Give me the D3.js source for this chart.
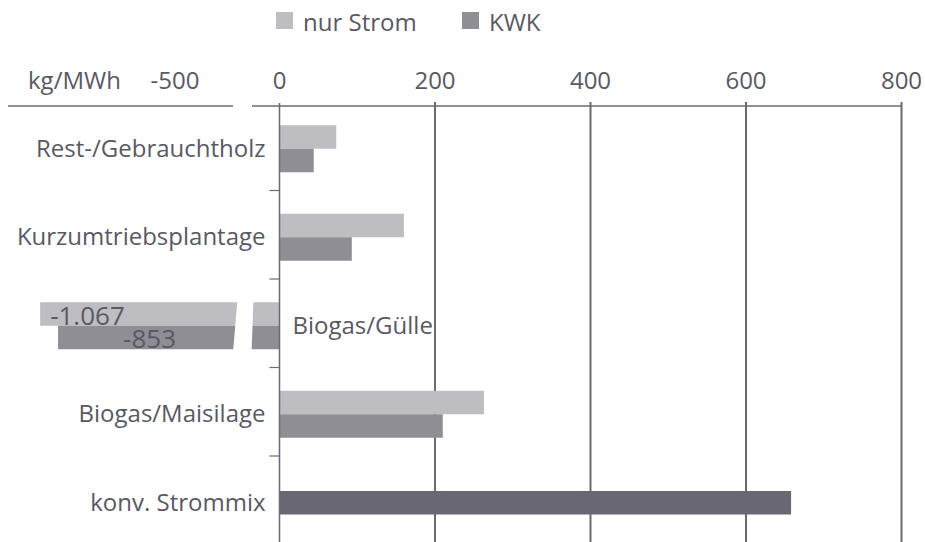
<!DOCTYPE html>
<html>
<head>
<meta charset="utf-8">
<script src="https://cdn.jsdelivr.net/npm/d3@7"></script>
<style>
  html, body { margin: 0; padding: 0; background: #fff; }
  svg { display: block; font-family: "Open Sans", "Noto Sans", sans-serif; }
</style>
</head>
<body>
<svg id="chart" width="925" height="542"></svg>
<script>
// Emissionen je Bereitstellungspfad (kg/MWh)
const categories = ["Rest-/Gebrauchtholz", "Kurzumtriebsplantage", "Biogas/Gülle", "Biogas/Maisilage", "konv. Strommix"];
const seriesNames = ["nur Strom", "KWK"];
const nurStrom = [73, 160, -1067, 263, null];
const kwk = [44, 93, -853, 210, null];
const strommix = [null, null, null, null, 658];
const valueLabels = ["-1.067", "-853"];
const tickValues = [-500, 0, 200, 400, 600, 800];
const unitLabel = "kg/MWh";

const colors = { "nur Strom": "#bebdc2", "KWK": "#8f8e94", "mix": "#696872" };
const textColor = "#595964";
const lineColor = "#6a6a72";

const svg = d3.select("#chart");

// Broken x scale: the negative part is compressed left of the axis break
const x = d3.scaleLinear()
  .domain([-1200, -800, -500, 0, 800])
  .range([29, 62.5, 175, 279.5, 901.5]);

const y = d3.scaleBand().domain(categories).range([104.5, 547]);
const barH = 23.5;
const ySub = d3.scaleBand().domain(seriesNames).range([-barH, barH]);

const axisY = 106;
const bottom = 548;

// Gridlines
svg.append("g").selectAll("line")
  .data(tickValues.filter(v => v > 0))
  .join("line")
  .attr("x1", d => x(d)).attr("x2", d => x(d))
  .attr("y1", axisY - 4).attr("y2", bottom)
  .attr("stroke", lineColor).attr("stroke-width", 2);

// Bars
const rows = categories.map((c, i) => ({ c, s: nurStrom[i], k: kwk[i], m: strommix[i] }));
const barData = [];
rows.forEach(r => {
  if (r.s != null) barData.push({ c: r.c, key: "nur Strom", v: r.s, off: ySub("nur Strom"), fill: colors["nur Strom"] });
  if (r.k != null) barData.push({ c: r.c, key: "KWK", v: r.k, off: ySub("KWK"), fill: colors["KWK"] });
  if (r.m != null) barData.push({ c: r.c, key: "mix", v: r.m, off: -barH / 2, fill: colors.mix });
});

svg.append("g").selectAll("rect")
  .data(barData)
  .join("rect")
  .attr("x", d => Math.min(x(0), x(d.v)))
  .attr("width", d => Math.abs(x(d.v) - x(0)))
  .attr("y", d => y(d.c) + y.bandwidth() / 2 + d.off)
  .attr("height", barH)
  .attr("fill", d => d.fill);

// Axis break across the long negative bars
const gc = y("Biogas/Gülle") + y.bandwidth() / 2;
svg.append("path")
  .attr("d", `M237.5,${gc - barH - 3} L253.5,${gc - barH - 3} L251.5,${gc + barH + 3} L233,${gc + barH + 3} Z`)
  .attr("fill", "#fff");

// Value labels inside the negative bars
const negRows = rows.filter(r => r.s < 0);
negRows.forEach(r => {
  const cy = y(r.c) + y.bandwidth() / 2;
  svg.append("text")
    .attr("x", x(r.s) + 10).attr("y", cy + ySub("nur Strom") + barH - 1)
    .attr("fill", textColor).attr("font-size", 26)
    .text(valueLabels[0]);
  svg.append("text")
    .attr("x", x(r.k) + 65).attr("y", cy + ySub("KWK") + barH - 1)
    .attr("fill", textColor).attr("font-size", 26)
    .text(valueLabels[1]);
});

// Zero line
svg.append("line")
  .attr("x1", x(0)).attr("x2", x(0))
  .attr("y1", axisY - 3).attr("y2", bottom)
  .attr("stroke", lineColor).attr("stroke-width", 1.5);

// Category separators
svg.append("g").selectAll("line")
  .data(categories.slice(1))
  .join("line")
  .attr("x1", x(0) - 10).attr("x2", x(0))
  .attr("y1", d => y(d) - 2.5).attr("y2", d => y(d) - 2.5)
  .attr("stroke", lineColor).attr("stroke-width", 1.2);

// Top axis line, interrupted at the break
svg.append("line").attr("x1", 8).attr("x2", 233).attr("y1", axisY).attr("y2", axisY)
  .attr("stroke", lineColor).attr("stroke-width", 1.5);
svg.append("line").attr("x1", 252).attr("x2", x(800)).attr("y1", axisY).attr("y2", axisY)
  .attr("stroke", lineColor).attr("stroke-width", 1.5);

// Tick labels
svg.append("g").selectAll("text")
  .data(tickValues)
  .join("text")
  .attr("x", d => x(d)).attr("y", 88.5)
  .attr("text-anchor", "middle")
  .attr("fill", textColor).attr("font-size", 24)
  .text(d => d);
svg.append("text").attr("x", 28).attr("y", 88.5)
  .attr("fill", textColor).attr("font-size", 24).text(unitLabel);

// Category labels
svg.append("g").selectAll("text")
  .data(rows)
  .join("text")
  .attr("x", d => (d.s != null && d.s < 0) ? x(0) + 13 : x(0) - 14)
  .attr("y", d => y(d.c) + y.bandwidth() / 2 + 8)
  .attr("text-anchor", d => (d.s != null && d.s < 0) ? "start" : "end")
  .attr("fill", textColor).attr("font-size", 24)
  .text(d => d.c);

// Legend
const legendX = [276, 462];
const legend = svg.append("g").selectAll("g")
  .data(seriesNames)
  .join("g")
  .attr("transform", (d, i) => `translate(${legendX[i]},12)`);
legend.append("rect").attr("width", 17).attr("height", 17).attr("fill", d => colors[d]);
legend.append("text").attr("x", 27).attr("y", 18.5)
  .attr("fill", textColor).attr("font-size", 24).text(d => d);
</script>
</body>
</html>
